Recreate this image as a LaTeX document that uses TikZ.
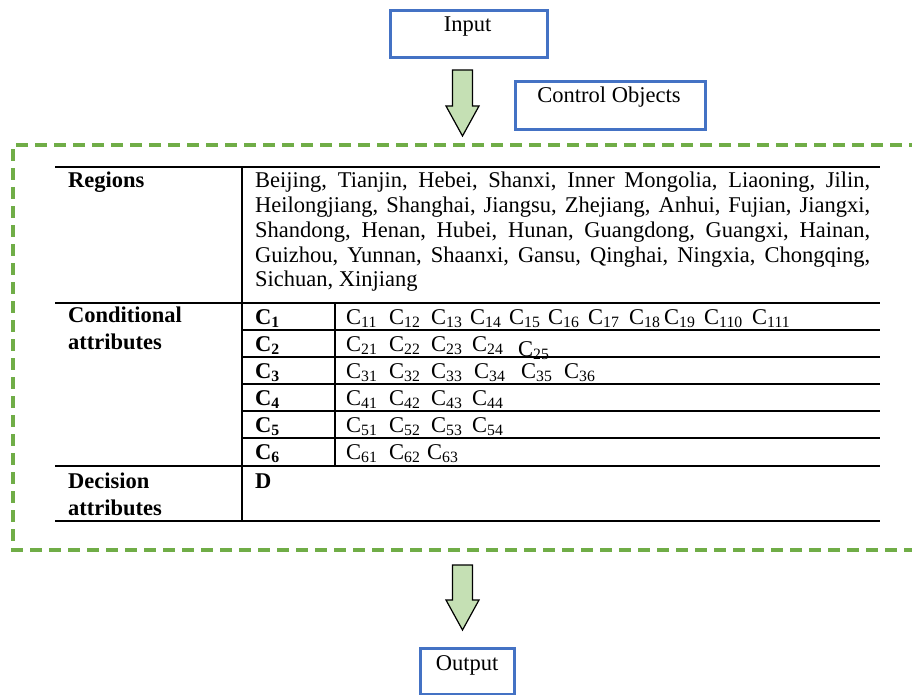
\documentclass[tikz,border=0pt]{standalone}
\usepackage{fontspec}
\setmainfont{Liberation Serif}
\definecolor{boxblue}{HTML}{4472C4}
\definecolor{dashgreen}{HTML}{70AD47}
\definecolor{arrowfill}{HTML}{C5E0B4}
\begin{document}
\begin{tikzpicture}[x=1pt,y=-1pt,
  bluebox/.style={draw=boxblue,line width=3pt,inner sep=0pt},
  tline/.style={line width=2.2pt},
  txt/.style={inner sep=0pt,font=\fontsize{22.5}{22.5}\selectfont},
  btxt/.style={inner sep=0pt,font=\fontsize{22.5}{22.5}\selectfont\bfseries},
  blockarrow/.style={draw=black,fill=arrowfill,line width=1.2pt,line join=miter},
  greendash/.style={draw=dashgreen,line width=3.5pt,dash pattern=on 12pt off 7pt}]
\useasboundingbox (0,0) rectangle (912,695);
\clip (0,0) rectangle (912,695);

% top boxes
\node[bluebox,anchor=north west,minimum width=157pt,minimum height=47pt] (inbox) at (389,9) {};
\node[txt,anchor=base] (input) at (467.5,32) {Input};
\node[bluebox,anchor=north west,minimum width=190pt,minimum height=48pt] (ctrlbox) at (514,80) {};
\node[txt,anchor=base] (ctrl) at (609,103) {Control Objects};

% top arrow
\draw[blockarrow] (452.5,70) -- (472.5,70) -- (472.5,106) -- (479,106) -- (462.5,136) -- (446,106) -- (452.5,106) -- cycle;

% dashed frame
\draw[greendash] (940,145) -- (13,145) -- (13,550) -- (940,550);

% table rules
\draw[tline] (55,167) -- (880,167);
\draw[tline] (55,303) -- (880,303);
\draw[tline] (55,466) -- (880,466);
\draw[tline] (55,521) -- (880,521);
\draw[tline] (242,167) -- (242,521);
\draw[tline] (335,303) -- (335,466);
\foreach \yy in {330,357,384,411,438} \draw[tline] (242,\yy) -- (880,\yy);

% header column
\node[btxt,anchor=base west] (regions) at (68,188) {Regions};
\node[btxt,anchor=base west] (cond) at (68,322) {\parbox[t]{170pt}{\baselineskip=27pt Conditional\\attributes}};
\node[btxt,anchor=base west] (dec) at (68,488) {\parbox[t]{170pt}{\baselineskip=27pt Decision\\attributes}};

% regions text
\node[txt,anchor=base west] (regtext) at (255,188) {\parbox[t]{615pt}{\baselineskip=24.7pt
\makebox[615pt][s]{Beijing, Tianjin, Hebei, Shanxi, Inner Mongolia, Liaoning, Jilin,}\\
\makebox[615pt][s]{Heilongjiang, Shanghai, Jiangsu, Zhejiang, Anhui, Fujian, Jiangxi,}\\
\makebox[615pt][s]{Shandong, Henan, Hubei, Hunan, Guangdong, Guangxi, Hainan,}\\
\makebox[615pt][s]{Guizhou, Yunnan, Shaanxi, Gansu, Qinghai, Ningxia, Chongqing,}\\
Sichuan, Xinjiang}};

% C labels
\foreach \k/\yy in {1/324,2/351,3/378,4/405,5/432,6/459}
  \node[btxt,anchor=base west] (C\k) at (255,\yy) {C\textsubscript{\k}};

% C items
\foreach \lab/\xx in {11/346,12/389,13/431,14/470,15/509,16/548,17/588,18/629,19/664,110/704,111/752}
  \node[txt,anchor=base west] (c\lab) at (\xx,324) {C\textsubscript{\lab}};
\foreach \lab/\xx in {21/346,22/389,23/431,24/472}
  \node[txt,anchor=base west] (c\lab) at (\xx,351) {C\textsubscript{\lab}};
\node[txt,anchor=base west] (c25) at (518,356) {C\textsubscript{25}};
\foreach \lab/\xx in {31/346,32/389,33/431,34/474,35/521,36/564}
  \node[txt,anchor=base west] (c\lab) at (\xx,378) {C\textsubscript{\lab}};
\foreach \lab/\xx in {41/346,42/389,43/431,44/472}
  \node[txt,anchor=base west] (c\lab) at (\xx,405) {C\textsubscript{\lab}};
\foreach \lab/\xx in {51/346,52/389,53/431,54/472}
  \node[txt,anchor=base west] (c\lab) at (\xx,432) {C\textsubscript{\lab}};
\foreach \lab/\xx in {61/346,62/389,63/427}
  \node[txt,anchor=base west] (c\lab) at (\xx,459) {C\textsubscript{\lab}};

\node[btxt,anchor=base west] (D) at (255,488) {D};

% bottom arrow
\draw[blockarrow] (452.5,565) -- (472.5,565) -- (472.5,600) -- (479,600) -- (462.5,630) -- (446,600) -- (452.5,600) -- cycle;

% output box
\node[bluebox,anchor=north west,minimum width=94pt,minimum height=46pt] (outbox) at (419,647) {};
\node[txt,anchor=base] (output) at (467,670) {Output};
\end{tikzpicture}
\end{document}
